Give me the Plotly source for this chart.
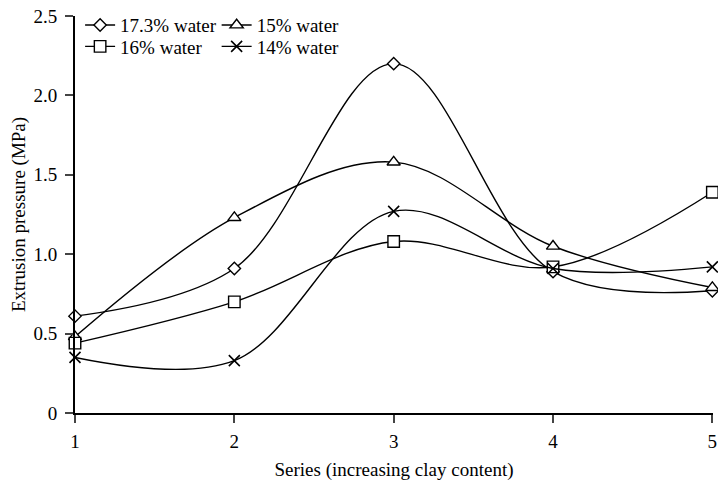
import plotly.graph_objects as go

series = [1, 2, 3, 4, 5]
water_17_3 = [0.61, 0.91, 2.20, 0.89, 0.77]
water_15 = [0.48, 1.23, 1.58, 1.05, 0.79]
water_16 = [0.44, 0.70, 1.08, 0.92, 1.39]
water_14 = [0.35, 0.33, 1.27, 0.91, 0.92]

y_ticks = [0, 0.5, 1.0, 1.5, 2.0, 2.5]
y_tick_labels = ["0", "0.5", "1.0", "1.5", "2.0", "2.5"]
x_ticks = [1, 2, 3, 4, 5]

FONT = "Liberation Serif"
FS = 19

fig = go.Figure()

def add(name, y, symbol, legend, size, color="white", lw=1.4):
    fig.add_trace(go.Scatter(
        x=series, y=y, name=name, mode="lines+markers",
        line=dict(color="black", width=1.4, shape="spline", smoothing=1.0),
        marker=dict(symbol=symbol, size=size, color=color,
                    line=dict(color="black", width=lw)),
        cliponaxis=False, legend=legend))

add("17.3% water", water_17_3, "diamond", "legend", 9.5)
add("15% water", water_15, "triangle-up", "legend2", 11.5)
add("16% water", water_16, "square", "legend3", 11.5)
add("14% water", water_14, "x-thin", "legend4", 11, color="black", lw=1.6)

def leg(x, y):
    return dict(x=x, y=y, xanchor="left", yanchor="middle",
                font=dict(family=FONT, size=FS, color="black"),
                bgcolor="rgba(0,0,0,0)", borderwidth=0,
                tracegroupgap=0, itemwidth=30)

row1, row2 = 0.977, 0.923
col1, col2 = 0.008, 0.222

fig.update_layout(
    width=710, height=473,
    margin=dict(l=67, r=5, t=8, b=68, autoexpand=False),
    paper_bgcolor="white", plot_bgcolor="white",
    font=dict(family=FONT, size=FS, color="black"),
    showlegend=True,
    legend=leg(col1, row1),
    legend2=leg(col2, row1),
    legend3=leg(col1, row2),
    legend4=leg(col2, row2),
    xaxis=dict(range=[1, 5.004], tickvals=x_ticks, ticks="outside", ticklen=8,
               tickwidth=2, showline=True, linecolor="black", linewidth=2,
               showgrid=False, zeroline=False, automargin=False,
               ticklabelstandoff=2, ticklabeloverflow="allow",
               title=dict(text="Series (increasing clay content)",
                          font=dict(family=FONT, size=FS, color="black"),
                          standoff=13),
               tickfont=dict(family=FONT, size=FS, color="black")),
    yaxis=dict(range=[0, 2.5], tickvals=y_ticks, ticktext=y_tick_labels,
               ticks="outside", ticklen=8, tickwidth=2, showline=True,
               linecolor="black", linewidth=2, showgrid=False, zeroline=False,
               automargin=False, ticklabelstandoff=4, ticklabeloverflow="allow",
               title=dict(text="Extrusion pressure (MPa)",
                          font=dict(family=FONT, size=FS, color="black"),
                          standoff=8),
               tickfont=dict(family=FONT, size=FS, color="black")),
)

fig.write_html("out.html")
